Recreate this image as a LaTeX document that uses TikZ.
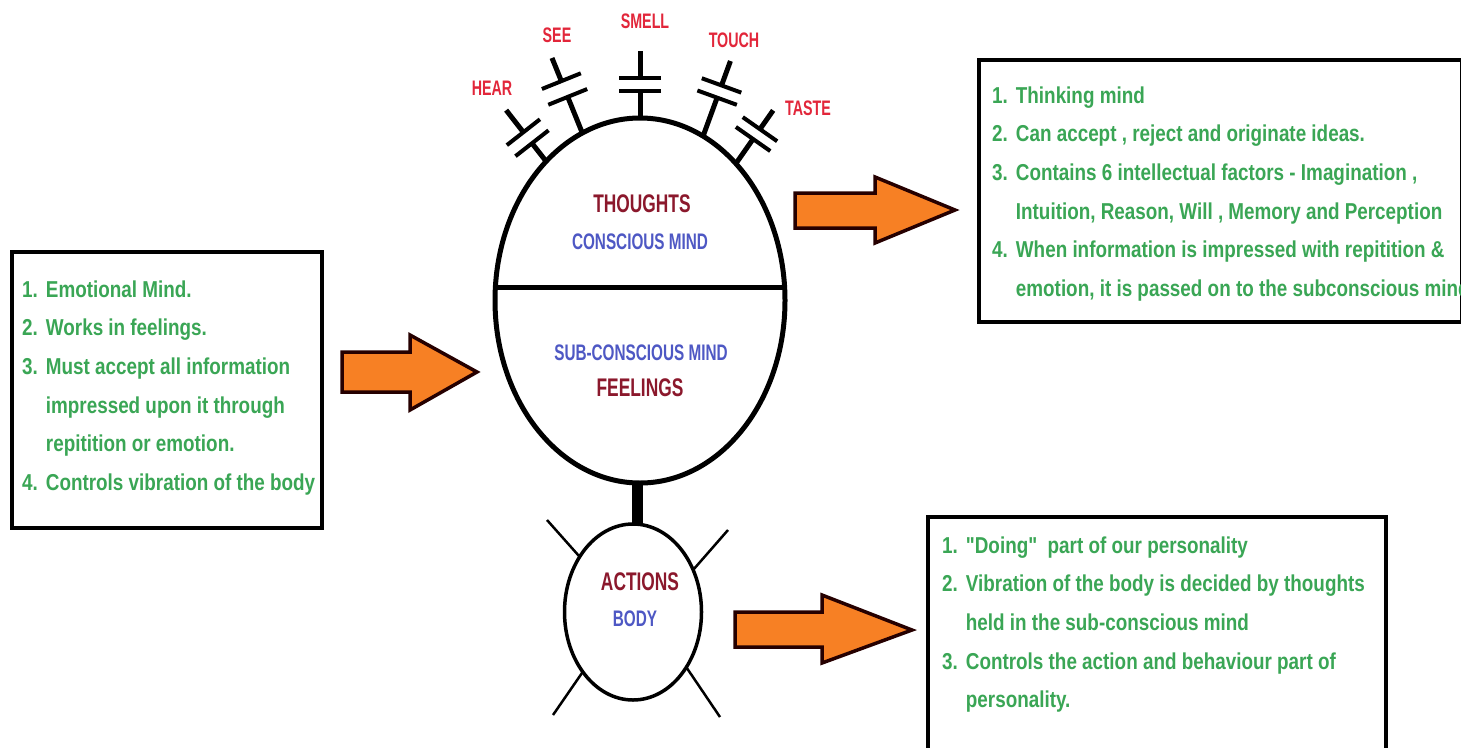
\documentclass[tikz,border=0pt]{standalone}
\usepackage{fontspec}
\usetikzlibrary{shapes.geometric}
\setmainfont{Liberation Sans}
\newfontfamily\txtf{Liberation Sans}[FakeStretch=0.82]
\newfontfamily\ttlf{Liberation Sans}[FakeStretch=0.68]
\definecolor{txtgreen}{RGB}{58,166,85}
\definecolor{ttlred}{RGB}{139,24,44}
\definecolor{subblue}{RGB}{78,88,196}
\definecolor{senred}{RGB}{226,38,58}
\definecolor{arrorange}{RGB}{247,128,36}
\tikzset{
  infobox/.style={draw=black, line width=4pt, rectangle, inner sep=0pt, outer sep=0pt},
  infotext/.style={anchor=north west, inner sep=0pt, text=txtgreen, font=\txtf\bfseries\fontsize{23}{38.6}\selectfont},
  ttl/.style={inner sep=0pt, text=ttlred, font=\ttlf\bfseries\fontsize{25.5}{28}\selectfont},
  subttl/.style={inner sep=0pt, text=subblue, font=\ttlf\bfseries\fontsize{22.5}{26}\selectfont},
  senselbl/.style={inner sep=0pt, text=senred, font=\ttlf\bfseries\fontsize{21}{24}\selectfont},
  antstem/.style={line width=5pt},
  antplate/.style={line width=4pt},
  limb/.style={line width=2.5pt},
  neckline/.style={line width=11pt},
  blockarrow/.style={fill=arrorange, draw=black!85!red, line width=3.5pt, line join=miter},
  pics/sense/.style n args={3}{code={
    \draw[antstem] (0,0) -- (#1,0);
    \draw[antplate] (#1,-21) -- (#1,21);
    \draw[antplate] ({#1+#2},-21) -- ({#1+#2},21);
    \draw[antstem] ({#1+#2},0) -- (#3,0);
  }}
}
\begin{document}
\begin{tikzpicture}[x=1pt,y=1pt]
\useasboundingbox (0,0) rectangle (1461,-747);
\fill[white] (0,0) rectangle (1461,-747);

% mind
\node[ellipse, draw, line width=5pt, minimum width=290pt, minimum height=365pt, inner sep=0pt, outer sep=0pt] (mind) at (640,-300.5) {};
\draw[line width=5pt] (mind.175) -- (mind.5);

% body
\node[ellipse, draw, line width=3.5pt, minimum width=137pt, minimum height=176pt, inner sep=0pt, outer sep=0pt] (body) at (633,-612) {};
\coordinate (nk) at (637,0);
\draw[neckline] (mind.south -| nk) -- (body.north -| nk);

% limbs
\coordinate (tl) at (547,-520);
\coordinate (tr) at (728,-530);
\coordinate (bl) at (553,-715);
\coordinate (br) at (720,-717);
\draw[limb] (body.134) -- (tl);
\draw[limb] (body.35) -- (tr);
\draw[limb] (body.230) -- (bl);
\draw[limb] (body.314) -- (br);

% senses
\pic[rotate=128] at (mind.124) {sense={23}{14}{65}};
\pic[rotate=112] at (mind.109.5) {sense={39}{17}{81}};
\pic[rotate=90] at (mind.90) {sense={27}{13}{67}};
\pic[rotate=70] at (mind.69.5) {sense={41}{13}{80}};
\pic[rotate=55] at (mind.55) {sense={30}{12}{65}};

\node[senselbl] (hear) at (492,-88) {HEAR};
\node[senselbl] (see) at (557,-35) {SEE};
\node[senselbl] (smell) at (645,-21) {SMELL};
\node[senselbl] (touch) at (734,-40) {TOUCH};
\node[senselbl] (taste) at (808,-108) {TASTE};

% mind texts
\node[ttl] (thoughts) at (642,-204) {THOUGHTS};
\node[subttl] (conscious) at (640,-242) {CONSCIOUS MIND};
\node[subttl] (subconscious) at (641,-353) {SUB-CONSCIOUS MIND};
\node[ttl] (feelings) at (640,-388) {FEELINGS};
\node[ttl] (actions) at (640,-582) {ACTIONS};
\node[subttl] (bodytxt) at (635,-619) {BODY};

% boxes
\node[infobox, minimum width=310pt, minimum height=276pt] (lbox) at (167,-390) {};
\node[infobox, minimum width=483pt, minimum height=262pt] (rbox) at (1220.5,-191) {};
\node[infobox, minimum width=458pt, minimum height=236pt] (bbox) at (1157,-635) {};

\node[infotext] (ltxt) at (22,-270) {\begin{tabular}{@{}l@{\hspace{8pt}}l@{}}
1. & Emotional Mind.\\
2. & Works in feelings.\\
3. & Must accept all information\\
   & impressed upon it through\\
   & repitition or emotion.\\
4. & Controls vibration of the body
\end{tabular}};

\node[infotext] (rtxt) at (992,-76) {\begin{tabular}{@{}l@{\hspace{8pt}}l@{}}
1. & Thinking mind\\
2. & Can accept , reject and originate ideas.\\
3. & Contains 6 intellectual factors - Imagination ,\\
   & Intuition, Reason, Will , Memory and Perception\\
4. & When information is impressed with repitition \&\\
   & emotion, it is passed on to the subconscious mind
\end{tabular}};

\node[infotext] (btxt) at (942,-526) {\begin{tabular}{@{}l@{\hspace{8pt}}l@{}}
1. & "Doing"\ \ part of our personality\\
2. & Vibration of the body is decided by thoughts\\
   & held in the sub-conscious mind\\
3. & Controls the action and behaviour part of\\
   & personality.
\end{tabular}};

% block arrows
\draw[blockarrow] (342,-352) -- (410,-352) -- (410,-335) -- (477,-372) -- (410,-410) -- (410,-392) -- (342,-392) -- cycle;
\draw[blockarrow] (795,-193) -- (875,-193) -- (875,-177) -- (955,-210) -- (875,-243) -- (875,-228) -- (795,-228) -- cycle;
\draw[blockarrow] (735,-612) -- (822,-612) -- (822,-595) -- (912,-630) -- (822,-663) -- (822,-647) -- (735,-647) -- cycle;
\end{tikzpicture}
\end{document}
